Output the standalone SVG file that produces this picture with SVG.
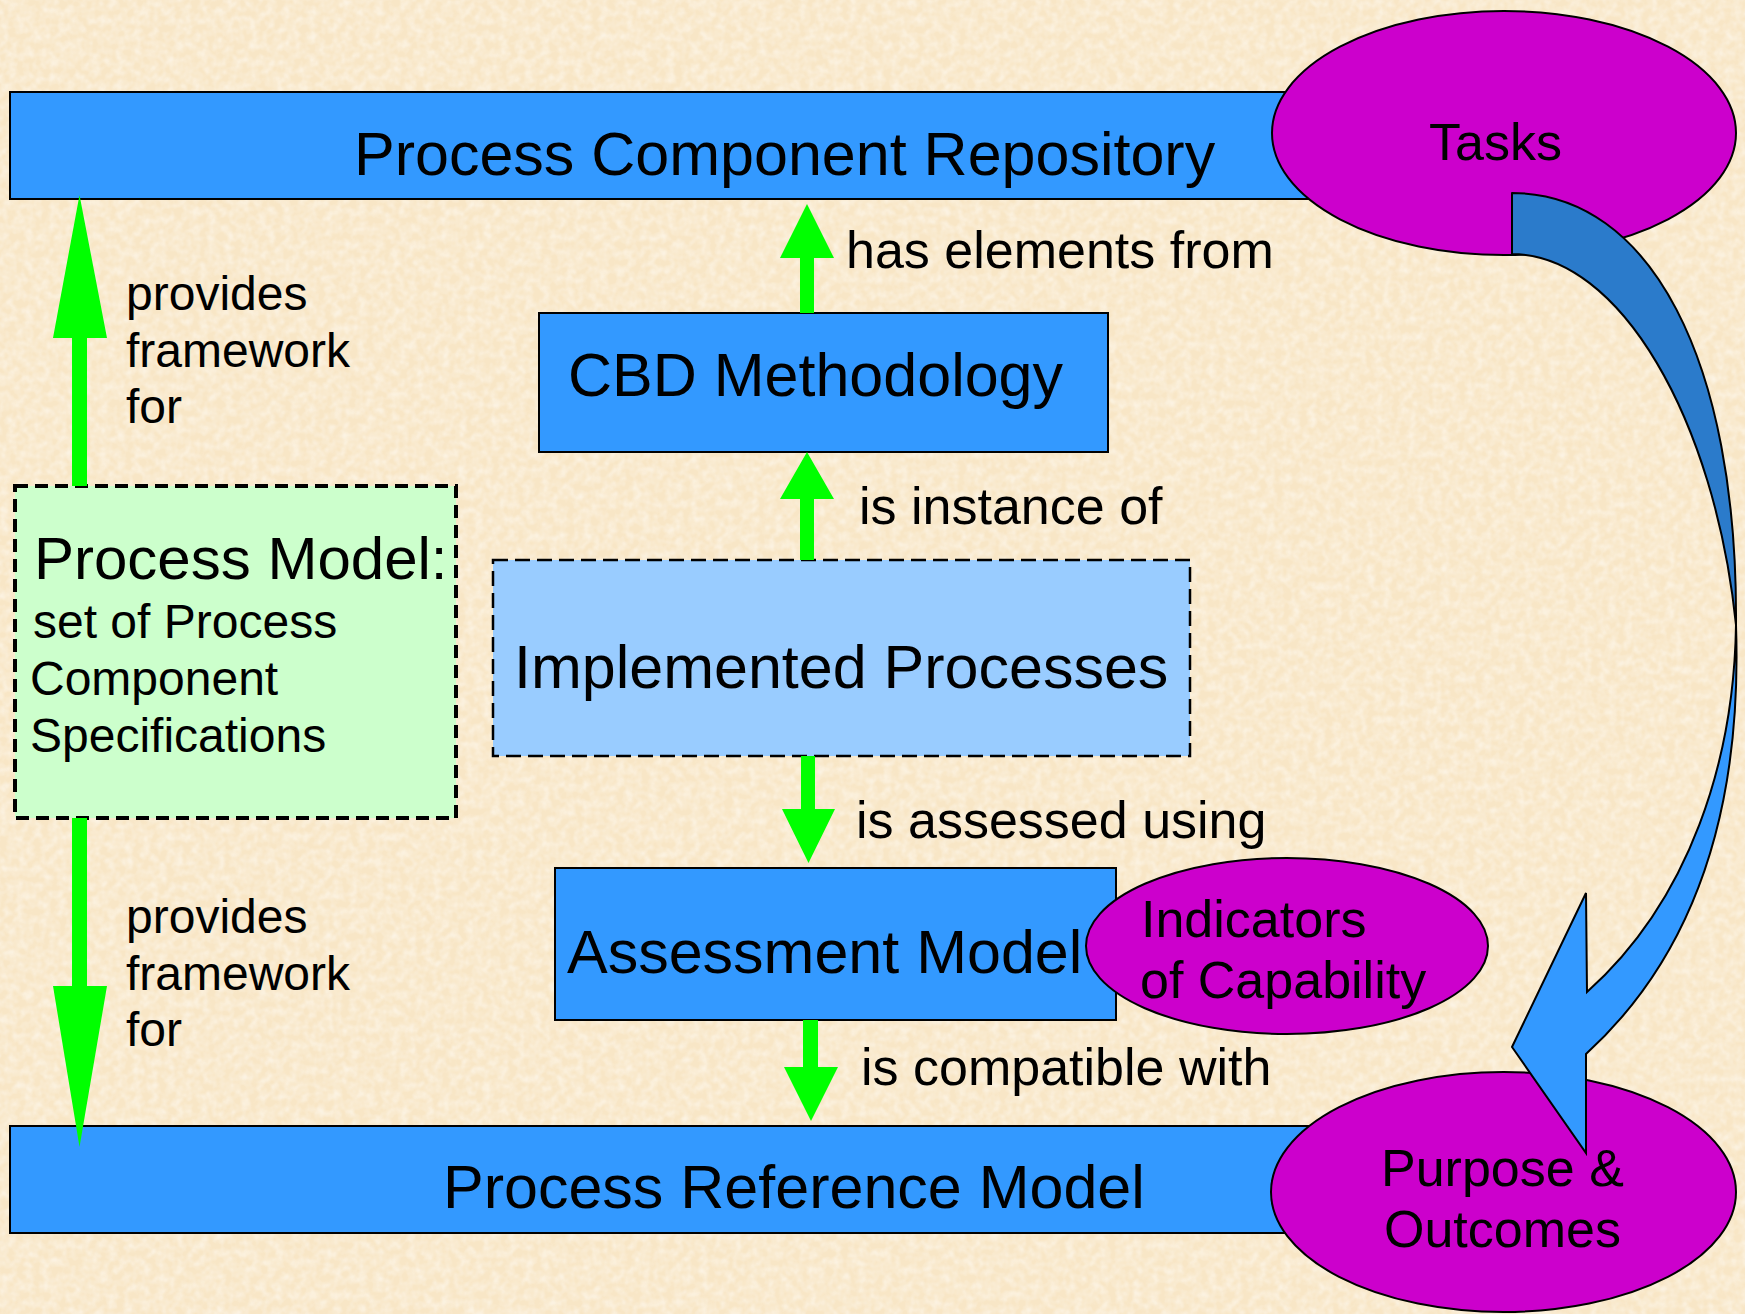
<svg xmlns="http://www.w3.org/2000/svg" width="1745" height="1314" viewBox="0 0 1745 1314">
<defs>
<style>
.bar{fill:#3399FF;stroke:#000;stroke-width:2}
.ell{fill:#CC00CC;stroke:#000;stroke-width:2}
.t{font-family:"Liberation Sans",Arial,sans-serif;fill:#000}
.big{font-size:61px}
.lbl{font-size:52px}
.sm{font-size:48px}
.grn{fill:#00FF00;stroke:none}
</style>
<filter id="paper" x="0" y="0" width="100%" height="100%">
<feTurbulence type="fractalNoise" baseFrequency="0.12" numOctaves="2" seed="7"/>
<feColorMatrix type="matrix" values="0 0 0 0 1  0 0 0 0 0.98  0 0 0 0 0.94  0 0 0 1.4 -0.45"/>
</filter>
</defs>
<rect width="1745" height="1314" fill="#F8E6C6"/>
<rect width="1745" height="1314" fill="#fff" filter="url(#paper)" opacity="0.7"/>

<g id="node-process-component-repository">
<rect class="bar" x="10" y="92" width="1390" height="107"/>
<text class="t big" x="354" y="175">Process Component Repository</text>
</g>
<g id="node-tasks">
<ellipse class="ell" cx="1504" cy="133" rx="232" ry="122"/>
<text class="t lbl" x="1429" y="160">Tasks</text>
</g>
<g id="node-cbd-methodology">
<rect class="bar" x="539" y="313" width="569" height="139"/>
<text class="t big" x="568" y="396">CBD Methodology</text>
</g>
<g id="node-process-model">
<rect x="15" y="486" width="441" height="332" fill="#CCFFCC" stroke="#000" stroke-width="4" stroke-dasharray="13 7"/>
<text class="t" x="34" y="579" font-size="60">Process Model:</text>
<text class="t sm" x="33" y="638">set of Process</text>
<text class="t sm" x="30" y="695">Component</text>
<text class="t sm" x="30" y="752">Specifications</text>
</g>
<g id="node-implemented-processes">
<rect x="493" y="560" width="697" height="196" fill="#99CCFF" stroke="#000" stroke-width="2.5" stroke-dasharray="15 7"/>
<text class="t big" x="514" y="688">Implemented Processes</text>
</g>
<g id="node-assessment-model">
<rect class="bar" x="555" y="868" width="561" height="152"/>
<text class="t big" x="567" y="973">Assessment Model</text>
</g>
<g id="node-indicators">
<ellipse class="ell" cx="1287" cy="946" rx="201" ry="88"/>
<text class="t lbl" x="1141" y="937">Indicators</text>
<text class="t lbl" x="1140" y="998">of Capability</text>
</g>
<g id="node-process-reference-model">
<rect class="bar" x="10" y="1126" width="1390" height="107"/>
<text class="t big" x="443" y="1208">Process Reference Model</text>
</g>
<g id="node-purpose-outcomes">
<ellipse class="ell" cx="1503.5" cy="1192" rx="232.5" ry="120"/>
<text class="t lbl" x="1381" y="1186">Purpose &amp;</text>
<text class="t lbl" x="1384" y="1247">Outcomes</text>
</g>

<g id="connectors">
<polygon class="grn" points="72,486 72,338 53,338 79.5,195 107,338 87,338 87,486"/>
<text class="t sm" x="126" y="310">provides</text>
<text class="t sm" x="126" y="367">framework</text>
<text class="t sm" x="126" y="423">for</text>
<polygon class="grn" points="72,818 72,986 53,986 79.5,1147 107,986 87,986 87,818"/>
<text class="t sm" x="126" y="933">provides</text>
<text class="t sm" x="126" y="990">framework</text>
<text class="t sm" x="126" y="1046">for</text>
<polygon class="grn" points="800,313 800,258 780,258 807,204 834,258 814,258 814,313"/>
<text class="t lbl" x="846" y="268">has elements from</text>
<polygon class="grn" points="800,560 800,499 780,499 807,452 834,499 814,499 814,560"/>
<text class="t lbl" x="859" y="524">is instance of</text>
<polygon class="grn" points="801,756 801,809 782,809 808.5,863 835,809 815,809 815,756"/>
<text class="t lbl" x="856" y="838">is assessed using</text>
<polygon class="grn" points="803,1020 803,1067 784,1067 811,1121 838,1067 818,1067 818,1020"/>
<text class="t lbl" x="861" y="1085">is compatible with</text>
<path d="M1512,193 C1650,193 1738,360 1736,625 C1715,420 1620,254 1512,254 Z" fill="#2B7BCB" stroke="#000" stroke-width="2" stroke-linejoin="round"/>
<path d="M1736,625 C1742,800 1700,950 1586,1054 L1586,1153 L1512,1047 L1586,893 L1587,992 C1690,900 1734,760 1736,625 Z" fill="#3399FF" stroke="#000" stroke-width="2" stroke-linejoin="miter"/>
</g>
</svg>
